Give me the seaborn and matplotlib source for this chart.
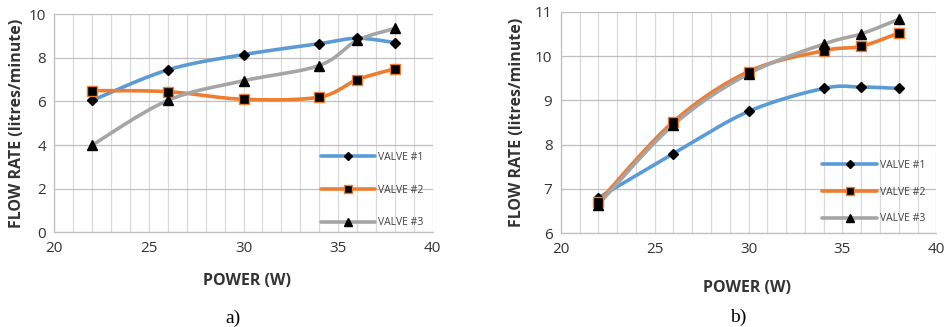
import numpy as np
import pandas as pd
import matplotlib
matplotlib.use("Agg")
import matplotlib.pyplot as plt
from matplotlib.lines import Line2D
import seaborn as sns

# ---------------- data ----------------
power = [22, 26, 30, 34, 36, 38]
series_names = ["VALVE #1", "VALVE #2", "VALVE #3"]

a_valve1 = [6.05, 7.45, 8.15, 8.65, 8.9, 8.7]
a_valve2 = [6.5, 6.45, 6.1, 6.2, 7.0, 7.5]
a_valve3 = [4.0, 6.05, 6.95, 7.65, 8.8, 9.35]

b_valve1 = [6.8, 7.8, 8.75, 9.27, 9.3, 9.27]
b_valve2 = [6.7, 8.52, 9.65, 10.12, 10.22, 10.52]
b_valve3 = [6.65, 8.45, 9.6, 10.27, 10.5, 10.83]

a_yticks = [0, 2, 4, 6, 8, 10]
b_yticks = [6, 7, 8, 9, 10, 11]
xticks = [20, 25, 30, 35, 40]

sns.set_theme(style="white")
plt.rcParams["font.family"] = ["Open Sans", "DejaVu Sans"]

colors = ["#5B9BD5", "#ED7D31", "#A5A5A5"]
markers = ["D", "s", "^"]
msizes = [5, 7, 6.5]
medges = ["black", "#ED7D31", "black"]


def smooth(x, y, n=30):
    """Excel-style smoothed line (Catmull-Rom Bezier) through the data points."""
    x = np.asarray(x, float)
    y = np.asarray(y, float)
    P = np.column_stack([x, y])
    Pe = np.vstack([P[0], P, P[-1]])
    out = []
    t = np.linspace(0, 1, n)
    for i in range(len(P) - 1):
        p0, p1, p2, p3 = Pe[i], Pe[i + 1], Pe[i + 2], Pe[i + 3]
        c1 = p1 + (p2 - p0) / 6.0
        c2 = p2 - (p3 - p1) / 6.0
        seg = ((1 - t)[:, None] ** 3 * p1 + 3 * ((1 - t) ** 2 * t)[:, None] * c1
               + 3 * ((1 - t) * t ** 2)[:, None] * c2 + (t ** 3)[:, None] * p2)
        out.append(seg if i == 0 else seg[1:])
    out = np.vstack(out)
    return out[:, 0], out[:, 1]


fig = plt.figure(figsize=(9.48, 3.27), dpi=100)
ax_a = fig.add_axes([0.0573, 0.2896, 0.3992, 0.6667])
ax_b = fig.add_axes([0.5915, 0.2865, 0.3962, 0.6777])


def draw(ax, data, yticks, ylim, leg_anchor, labelspacing):
    for k, (vals, name) in enumerate(zip(data, series_names)):
        sx, sy = smooth(power, vals)
        df = pd.DataFrame({"x": sx, "y": sy})
        sns.lineplot(data=df, x="x", y="y", ax=ax, sort=False, color=colors[k],
                     linewidth=2.6, estimator=None, zorder=3 + k)
        pts = pd.DataFrame({"x": power, "y": vals})
        ax.plot(pts["x"], pts["y"], linestyle="none", marker=markers[k],
                markersize=msizes[k], markerfacecolor="black",
                markeredgecolor=medges[k], markeredgewidth=1.0, zorder=6 + k)
    ax.set_xlim(20, 40)
    ax.set_ylim(*ylim)
    ax.set_xticks(xticks)
    ax.set_xticks(np.arange(20, 41, 1), minor=True)
    ax.set_yticks(yticks)
    ax.grid(True, which="minor", axis="x", color="#D9D9D9", linewidth=0.9)
    ax.grid(True, which="major", axis="x", color="#D9D9D9", linewidth=0.9)
    ax.grid(True, which="major", axis="y", color="#BFBFBF", linewidth=0.9)
    ax.set_axisbelow(True)
    for s in ["top", "right"]:
        ax.spines[s].set_visible(False)
    for s in ["left", "bottom"]:
        ax.spines[s].set_color("#BFBFBF")
        ax.spines[s].set_linewidth(0.9)
    ax.tick_params(axis="both", which="both", length=0, labelsize=11,
                   labelcolor="#333333", pad=6)
    ax.set_xlabel("POWER (W)", fontsize=11.5, fontweight="bold", color="#333333")
    ax.set_ylabel("FLOW RATE (litres/minute)", fontsize=11.5, fontweight="bold",
                  color="#333333")
    handles = [Line2D([], [], color=colors[k], linewidth=2.6, marker=markers[k],
                      markersize=msizes[k] * 0.85, markerfacecolor="black",
                      markeredgecolor=medges[k]) for k in range(3)]
    ax.legend(handles, series_names, loc="center left", bbox_to_anchor=leg_anchor,
              frameon=False, fontsize=7.5, handlelength=5.2,
              labelspacing=labelspacing, handletextpad=0.3,
              labelcolor="#404040", borderpad=0)


draw(ax_a, [a_valve1, a_valve2, a_valve3], a_yticks, (0, 10), (0.69, 0.194), 2.1)
draw(ax_b, [b_valve1, b_valve2, b_valve3], b_yticks, (6, 11), (0.683, 0.186), 1.5)

ax_a.xaxis.set_label_coords(0.51, -0.185)
ax_a.yaxis.set_label_coords(-0.077, 0.5)
ax_b.xaxis.set_label_coords(0.495, -0.21)
ax_b.yaxis.set_label_coords(-0.095, 0.5)

fig.text(233 / 948, 1 - 318 / 327, "a)", family="Liberation Serif", fontsize=14,
         ha="center", va="center", color="black")
fig.text(738 / 948, 1 - 317 / 327, "b)", family="Liberation Serif", fontsize=14,
         ha="center", va="center", color="black")

fig.savefig("out.png", dpi=100, facecolor="white")
